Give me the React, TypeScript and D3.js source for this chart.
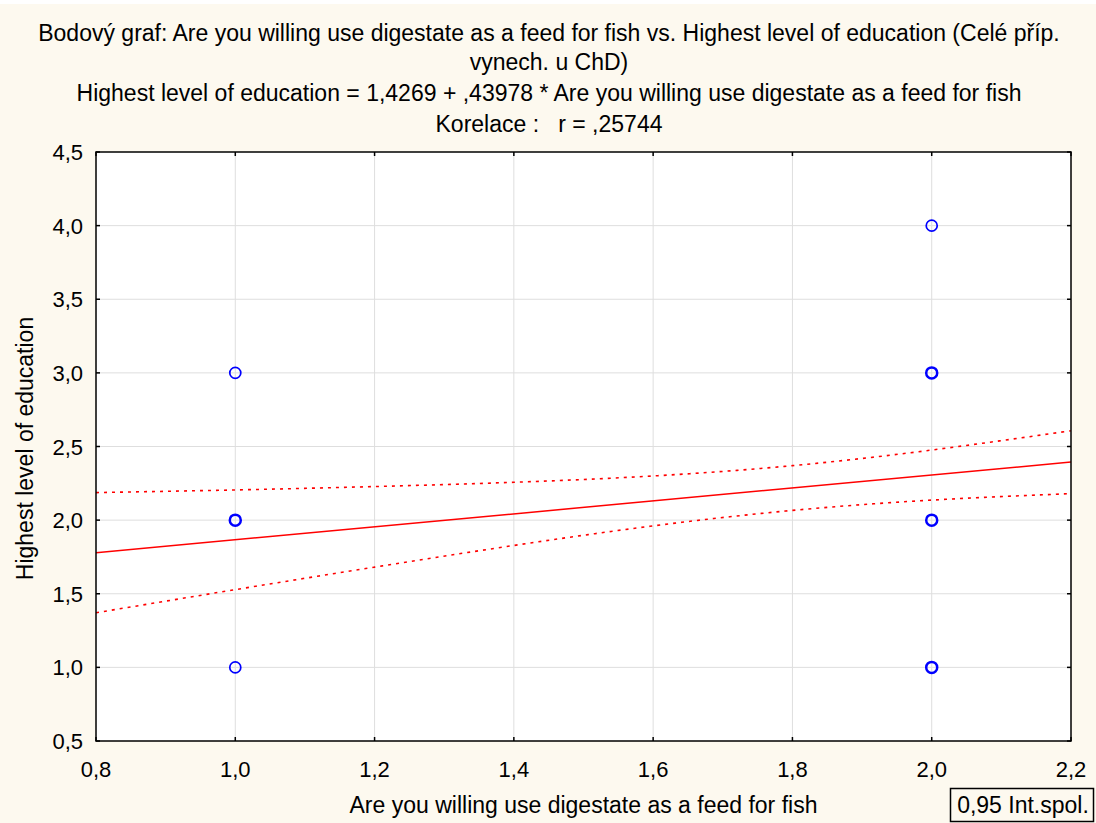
import React from "react";
import * as d3 from "d3";

const titleLines = [
  "Bodový graf: Are you willing use digestate as a feed for fish vs. Highest level of education (Celé příp.",
  "vynech. u ChD)",
  "Highest level of education = 1,4269 + ,43978 * Are you willing use digestate as a feed for fish",
  "Korelace :   r = ,25744",
];
const xLabel = "Are you willing use digestate as a feed for fish";
const yLabel = "Highest level of education";
const legendLabel = "0,95 Int.spol.";

const xTicks = [0.8, 1.0, 1.2, 1.4, 1.6, 1.8, 2.0, 2.2];
const yTicks = [0.5, 1.0, 1.5, 2.0, 2.5, 3.0, 3.5, 4.0, 4.5];

// observed points (x, y) and how many overlap at each spot
const pointX = [1, 1, 1, 2, 2, 2, 2];
const pointY = [3, 2, 1, 4, 3, 2, 1];
const pointCount = [1, 3, 1, 1, 3, 4, 2];

// regression
const intercept = 1.4269;
const slope = 0.43978;

// confidence band
const bandX = [0.8, 1.0, 1.2, 1.4, 1.6, 1.8, 2.0, 2.2];
const bandUpper = [2.187, 2.205, 2.228, 2.257, 2.3, 2.37, 2.476, 2.607];
const bandLower = [1.371, 1.528, 1.681, 1.828, 1.961, 2.066, 2.136, 2.18];

const fmt = (v: number) => v.toFixed(1).replace(".", ",");

export default function App() {
  const W = 1096;
  const H = 823;
  const L = 96, R = 1071, T = 152, B = 741;
  const x = d3.scaleLinear().domain([0.8, 2.2]).range([L, R]);
  const y = d3.scaleLinear().domain([0.5, 4.5]).range([B, T]);
  const font = "'Liberation Sans', Arial, sans-serif";

  const lineGen = d3
    .line<[number, number]>()
    .x((d) => x(d[0]))
    .y((d) => y(d[1]))
    .curve(d3.curveNatural);

  const regPts: [number, number][] = [0.8, 2.2].map((v) => [v, intercept + slope * v]);
  const upperPts: [number, number][] = bandX.map((v, i) => [v, bandUpper[i]]);
  const lowerPts: [number, number][] = bandX.map((v, i) => [v, bandLower[i]]);

  const tick = 4;
  const fs = 23;
  const tfs = 22;
  return (
    <svg
      width={W}
      height={H}
      style={{ position: "absolute", left: 0, top: 0, display: "block" }}
      fontFamily={font}
    >
      <rect x={0} y={0} width={W} height={H} fill="#ffffff" />
      <rect x={0} y={4} width={W} height={H - 4} fill="#fdf9ef" />
      <rect x={L} y={T} width={R - L} height={B - T} fill="#ffffff" />
      {/* grid */}
      {xTicks.slice(1, -1).map((t) => (
        <line key={"gx" + t} x1={x(t)} x2={x(t)} y1={T} y2={B} stroke="#dedede" strokeWidth={1} />
      ))}
      {yTicks.slice(1, -1).map((t) => (
        <line key={"gy" + t} x1={L} x2={R} y1={y(t)} y2={y(t)} stroke="#dedede" strokeWidth={1} />
      ))}
      {/* band and regression */}
      <defs>
        <clipPath id="plotClip">
          <rect x={L} y={T} width={R - L} height={B - T} />
        </clipPath>
      </defs>
      <g clipPath="url(#plotClip)">
        <path d={lineGen(upperPts) || ""} fill="none" stroke="#ff0000" strokeWidth={1.6} strokeDasharray="3,5" />
        <path d={lineGen(lowerPts) || ""} fill="none" stroke="#ff0000" strokeWidth={1.6} strokeDasharray="3,5" />
        <path d={d3.line<[number, number]>().x((d) => x(d[0])).y((d) => y(d[1]))(regPts) || ""} fill="none" stroke="#ff0000" strokeWidth={1.5} />
      </g>
      {/* points */}
      {pointX.map((px, i) => (
        <circle
          key={"p" + i}
          cx={x(px)}
          cy={y(pointY[i])}
          r={5.5}
          fill="none"
          stroke="#0000ff"
          strokeWidth={pointCount[i] > 1 ? 2.5 : 1.7}
        />
      ))}
      {/* frame */}
      <rect x={L} y={T} width={R - L} height={B - T} fill="none" stroke="#000" strokeWidth={1.5} />
      {/* ticks */}
      {xTicks.map((t) => (
        <g key={"xt" + t}>
          <line x1={x(t)} x2={x(t)} y1={B} y2={B - tick} stroke="#000" strokeWidth={1.5} />
          <line x1={x(t)} x2={x(t)} y1={T} y2={T + tick} stroke="#000" strokeWidth={1.5} />
          <text x={x(t)} y={777} fontSize={tfs} textAnchor="middle" fill="#000">
            {fmt(t)}
          </text>
        </g>
      ))}
      {yTicks.map((t) => (
        <g key={"yt" + t}>
          <line x1={L} x2={L + tick} y1={y(t)} y2={y(t)} stroke="#000" strokeWidth={1.5} />
          <line x1={R} x2={R - tick} y1={y(t)} y2={y(t)} stroke="#000" strokeWidth={1.5} />
          <text x={83} y={y(t) + 8} fontSize={tfs} textAnchor="end" fill="#000">
            {fmt(t)}
          </text>
        </g>
      ))}
      {/* titles */}
      {titleLines.map((s, i) => (
        <text
          key={"t" + i}
          x={W / 2 + 1}
          y={[41, 70, 101, 132][i]}
          fontSize={fs}
          textAnchor="middle"
          fill="#000"
          style={{ whiteSpace: "pre" }}
        >
          {s}
        </text>
      ))}
      <text x={(L + R) / 2} y={813} fontSize={fs} textAnchor="middle" fill="#000">
        {xLabel}
      </text>
      <text
        transform={`translate(33, ${(T + B) / 2 + 2}) rotate(-90)`}
        fontSize={fs}
        textAnchor="middle"
        fill="#000"
      >
        {yLabel}
      </text>
      {/* legend */}
      <rect x={950.5} y={788.5} width={143} height={33} fill="none" stroke="#000" strokeWidth={1.5} />
      <text x={1023} y={813} fontSize={fs} textAnchor="middle" fill="#000">
        {legendLabel}
      </text>
    </svg>
  );
}
